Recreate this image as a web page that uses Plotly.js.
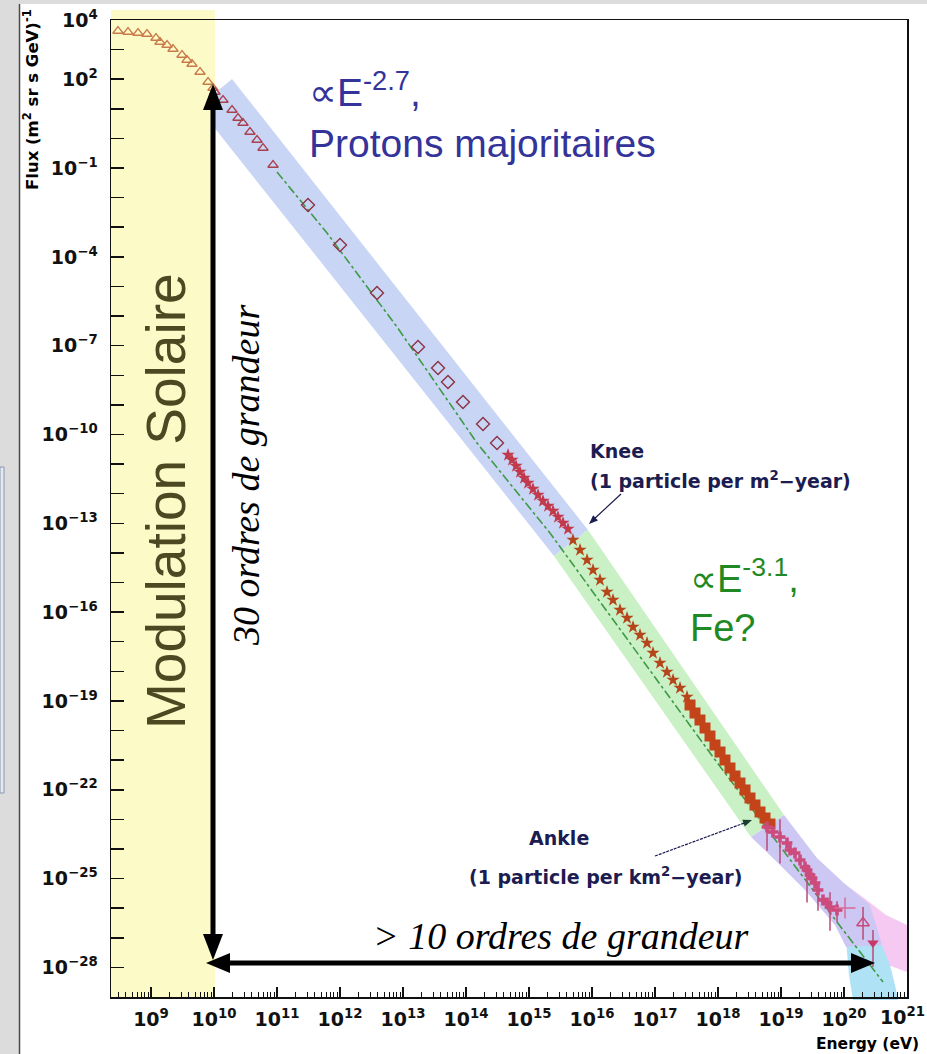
<!DOCTYPE html>
<html><head><meta charset="utf-8">
<script src="https://cdn.plot.ly/plotly-3.0.1.min.js"></script>
<style>html,body{margin:0;padding:0;background:#fff;}#chart{width:927px;height:1054px;}</style>
</head><body><div id="chart"></div>
<script>
// ---- data (log10 of energy in eV, log10 of flux) ----
const lowTriE = [8.476,8.635,8.794,8.936,9.079,9.143,9.254,9.349,9.492,9.571,9.651,9.778,9.905,9.984];
const lowTriF = [3.628,3.595,3.561,3.527,3.392,3.257,3.156,3.020,2.818,2.649,2.514,2.244,1.906,1.703];
const midTriE = [10.016,10.143,10.286,10.381,10.460,10.571,10.683,10.778,10.937];
const midTriF = [1.568,1.298,0.960,0.690,0.521,0.217,-0.053,-0.324,-0.898];
const diamondE = [11.492,12.000,12.587,13.238,13.556,13.714,13.952,14.270,14.492];
const diamondF = [-2.249,-3.600,-5.221,-7.045,-7.754,-8.227,-8.903,-9.646,-10.288];
const kneeE = [14.667,14.730,14.794,14.857,14.921,14.984,15.063,15.143,15.222,15.302,15.381,15.460,15.540,15.619];
const kneeF = [-10.693,-10.862,-11.065,-11.267,-11.470,-11.639,-11.841,-12.044,-12.247,-12.416,-12.584,-12.787,-12.990,-13.192];
const feE = [15.698,15.810,15.921,16.016,16.127,16.238,16.333,16.444,16.556,16.651,16.762,16.873,16.968,17.079,17.190,17.286,17.397,17.508];
const feF = [-13.564,-13.902,-14.240,-14.577,-14.915,-15.320,-15.591,-15.929,-16.199,-16.503,-16.773,-17.043,-17.381,-17.719,-18.023,-18.293,-18.563,-18.867];
const feDenseE = [17.556,17.635,17.714,17.794,17.873,17.952,18.032,18.111,18.190,18.270,18.349,18.429,18.508,18.587,18.667,18.746,18.825];
const feDenseF = [-19.137,-19.407,-19.644,-19.914,-20.184,-20.488,-20.725,-20.995,-21.265,-21.535,-21.772,-22.008,-22.278,-22.515,-22.751,-22.954,-23.157];
const uheE = [18.778,18.873,18.984,19.095,19.143,19.222,19.302,19.381,19.413,19.460,19.492,19.540,19.587,19.667,19.730,19.778,19.889];
const uheF = [-23.258,-23.427,-23.595,-23.798,-24.035,-24.136,-24.373,-24.609,-24.710,-24.879,-24.981,-25.150,-25.386,-25.724,-25.825,-25.960,-26.062];
const uheErrUp = [0.15,0,0.6,0,0,0,0,0,0.1,0,0,0,0.25,0,0,0.5,0.3];
const uheErrDn = [0.8,0,0.9,0,0,0,0,0,1.1,0,0,0,0.7,0,0,0.8,0.4];
const crossE = [20.016], crossF = [-25.994];
const openTriE = [20.302], openTriF = [-26.5], openTriUp = [0.54], openTriDn = [0.57];
const downTriE = [20.460], downTriF = [-27.176], downTriUp = [0.44], downTriDn = [0.81];
const refLineE = [11.000,11.794,12.905,14.175,15.333,17.921,19.889,20.619];
const refLineF = [-1.134,-3.195,-6.370,-10.288,-13.328,-20.894,-26.467,-28.493];
const xLabelExp = [9,10,11,12,13,14,15,16,17,18,19,20,21];
const yLabelExp = [4,2,-1,-4,-7,-10,-13,-16,-19,-22,-25,-28];

// ---- helpers ----
const pw = v => Math.pow(10, v);
const expTxt = e => '10<sup>' + String(e).replace('-', '\u2212') + '</sup>';
const L=111, R=907, T=20, B=997;
const px = x => (x-L)/(R-L), py = y => (B-y)/(B-T);
const path = pts => 'M' + pts.map(p => px(p[0]).toFixed(5)+','+py(p[1]).toFixed(5)).join('L') + 'Z';
const errs = (F, up, dn) => ({type:'data', symmetric:false,
  array: F.map((f,i)=>pw(f+up[i])-pw(f)), arrayminus: F.map((f,i)=>pw(f)-pw(f-dn[i])),
  width:0, thickness:1.5});

const traces = [
  {x:refLineE.map(pw), y:refLineF.map(pw), mode:'lines', line:{color:'#3f9a46', width:1.6, dash:'dashdot'}},
  {x:lowTriE.map(pw), y:lowTriF.map(pw), mode:'markers', marker:{symbol:'triangle-up-open', size:9, color:'#c97a4a', line:{width:1.3}}},
  {x:midTriE.map(pw), y:midTriF.map(pw), mode:'markers', marker:{symbol:'triangle-up-open', size:9, color:'#a8404e', line:{width:1.3}}},
  {x:diamondE.map(pw), y:diamondF.map(pw), mode:'markers', marker:{symbol:'diamond-open', size:10, color:'#8c3444', line:{width:1.4}}},
  {x:kneeE.map(pw), y:kneeF.map(pw), mode:'markers', marker:{symbol:'star', size:10, color:'#c2394c'}},
  {x:feE.map(pw), y:feF.map(pw), mode:'markers', marker:{symbol:'star', size:10, color:'#b5461a'}},
  {x:feDenseE.map(pw), y:feDenseF.map(pw), mode:'markers', marker:{symbol:'square', size:11, color:'#c4441a'}},
  {x:uheE.map(pw), y:uheF.map(pw), mode:'markers', marker:{symbol:'cross', size:9, color:'#cc4a7c'},
   error_y:Object.assign(errs(uheF,uheErrUp,uheErrDn),{color:'#b94a78'})},
  {x:crossE.map(pw), y:crossF.map(pw), mode:'markers', marker:{symbol:'cross-thin-open', size:15, color:'#d86a9a', line:{width:1.5}}},
  {x:openTriE.map(pw), y:openTriF.map(pw), mode:'markers', marker:{symbol:'triangle-up-open', size:11, color:'#c84a7a', line:{width:1.4}},
   error_y:Object.assign(errs(openTriF,openTriUp,openTriDn),{color:'#b94a78'})},
  {x:downTriE.map(pw), y:downTriF.map(pw), mode:'markers', marker:{symbol:'triangle-down', size:10, color:'#c83a66'},
   error_y:Object.assign(errs(downTriF,downTriUp,downTriDn),{color:'#b94a78'})}
];

const xMinor = [];
for (let d=8; d<=20; d++) for (let k=2; k<=9; k++) xMinor.push(k*pw(d));
const yMinor = [];
for (let e=-29; e<=4; e++) if (!yLabelExp.includes(e)) yMinor.push(pw(e));
// the last energy label sits on the frame edge; it is placed as an annotation so it stays inside the page
const xAxisExp = xLabelExp.slice(0, -1), xEdgeExp = xLabelExp[xLabelExp.length-1];

const S = (o) => Object.assign({xref:'paper', yref:'paper', layer:'below'}, o);
const SA = (o) => Object.assign({xref:'paper', yref:'paper', layer:'above'}, o);
function head(tip, tail, len, hw, color) {
  const dx = tip[0]-tail[0], dy = tip[1]-tail[1], n = Math.hypot(dx,dy), ux = dx/n, uy = dy/n;
  const bx = tip[0]-len*ux, by = tip[1]-len*uy;
  return SA({type:'path', path:path([tip,[bx-hw*uy, by+hw*ux],[bx+hw*uy, by-hw*ux]]), fillcolor:color, line:{width:0}});
}
const vTop=[213,84], vBot=[213,960], hL=[206,963], hR=[875,963];
const kneeTip=[589,524], kneeTail=[621,494], ankTip=[752,820], ankTail=[655,856];
const shapes = [
  S({type:'rect', x0:px(0), x1:px(19), y0:py(1054), y1:py(0), fillcolor:'#dcdcdc', line:{width:0}}),
  S({type:'rect', x0:px(19), x1:px(927), y0:py(4), y1:py(0), fillcolor:'#dcdcdc', line:{width:0}}),
  S({type:'rect', x0:px(0), x1:px(4), y0:py(793), y1:py(467), fillcolor:'#e4e8ee', line:{width:1, color:'#8a98ae'}}),
  S({type:'line', x0:px(19.5), x1:px(19.5), y0:py(4), y1:py(1054), line:{width:1.5, color:'#4a4a4a'}}),
  S({type:'path', path:path([[198,107],[232,79],[588,530],[554,556]]), fillcolor:'#c8d5f5', line:{width:0}}),
  S({type:'path', path:path([[554,556],[588,530],[784,815],[751,837]]), fillcolor:'#caf0c6', line:{width:0}}),
  S({type:'path', path:path([[820,865],[842,882],[864,898],[886,915],[907,925],[907,972],[888,965],[868,955],[850,946],[832,920]]), fillcolor:'#f6c9f2', line:{width:0}}),
  S({type:'path', path:path([[846,940],[880,940],[890,965],[895,985],[898,1000],[853,1000],[849,975]]), fillcolor:'#aee2f4', line:{width:0}}),
  S({type:'path', path:path([[751,837],[784,815],[817,858],[845,884],[870,905],[882,945],[846,947],[835,925],[805,890],[775,860]]), fillcolor:'#ccc8f3', line:{width:0}}),
  S({type:'rect', x0:px(111), x1:px(215), y0:py(997), y1:py(10), fillcolor:'#fcfac7', line:{width:0}}),
  // black double arrows
  SA({type:'line', x0:px(vTop[0]), x1:px(vBot[0]), y0:py(vTop[1]+20), y1:py(vBot[1]-20), line:{width:5, color:'#000'}}),
  head(vTop, vBot, 26, 10, '#000'), head(vBot, vTop, 26, 10, '#000'),
  SA({type:'line', x0:px(hL[0]+20), x1:px(hR[0]-20), y0:py(hL[1]), y1:py(hR[1]), line:{width:5, color:'#000'}}),
  head(hL, hR, 24, 10, '#000'), head(hR, hL, 24, 10, '#000'),
  // knee / ankle pointers
  SA({type:'line', x0:px(kneeTail[0]), y0:py(kneeTail[1]), x1:px(kneeTip[0]+4), y1:py(kneeTip[1]-4), line:{width:1.2, color:'#1c1c50'}}),
  head(kneeTip, kneeTail, 9, 3.5, '#1c1c50'),
  SA({type:'line', x0:px(ankTail[0]), y0:py(ankTail[1]), x1:px(ankTip[0]-5), y1:py(ankTip[1]+2), line:{width:1.2, color:'#1c1c50', dash:'3px,1px'}}),
  head(ankTip, ankTail, 9, 3.5, '#1c3c30')
];

const tickFont = {family:'DejaVu Sans', size:19, color:'#111', weight:'bold'};
const ann = [];
const A = o => ann.push(Object.assign({xref:'paper', yref:'paper', showarrow:false}, o));
const rootFont = {family:'DejaVu Sans', size:19, color:'#1c1c50', weight:'bold'};
A({x:px(307), y:py(115), xanchor:'left', yanchor:'middle', align:'left',
   text:'\u221DE<sup>-2.7</sup>,<br>Protons majoritaires', font:{family:'Liberation Sans, Arial', size:39, color:'#33339a'}});
A({x:px(688), y:py(600), xanchor:'left', yanchor:'middle', align:'left',
   text:'\u221DE<sup>-3.1</sup>,<br>Fe?', font:{family:'Liberation Sans, Arial', size:38, color:'#1f8a24'}});
A({x:px(588), y:py(451), xanchor:'left', yanchor:'middle', text:'Knee', font:rootFont});
A({x:px(588), y:py(480), xanchor:'left', yanchor:'middle', text:'(1 particle per m<sup>2</sup>\u2212year)', font:rootFont});
A({x:px(527), y:py(838), xanchor:'left', yanchor:'middle', text:'Ankle', font:rootFont});
A({x:px(467), y:py(876), xanchor:'left', yanchor:'middle', text:'(1 particle per km<sup>2</sup>\u2212year)', font:rootFont});
A({x:px(166), y:py(501), xanchor:'center', yanchor:'middle', textangle:-90, text:'Modulation Solaire',
   font:{family:'Liberation Sans, Arial', size:55, color:'#4d4822'}});
A({x:px(246), y:py(476), xanchor:'center', yanchor:'middle', textangle:-90, text:'<i>30 ordres de grandeur</i>',
   font:{family:'Liberation Serif, Times New Roman', size:38, color:'#000'}});
A({x:px(561), y:py(936), xanchor:'center', yanchor:'middle', text:'<i>&gt; 10 ordres de grandeur</i>',
   font:{family:'Liberation Serif, Times New Roman', size:38, color:'#000'}});
A({x:px(31), y:py(100), xanchor:'center', yanchor:'middle', textangle:-90, text:'Flux (m<sup>2</sup> sr s GeV)<sup>-1</sup>',
   font:{family:'DejaVu Sans', size:16.5, color:'#000', weight:'bold'}});
A({x:px(814), y:py(1044), xanchor:'left', yanchor:'middle', text:'Energy (eV)',
   font:{family:'DejaVu Sans', size:15.5, color:'#000', weight:'bold'}});
A({x:px(926), y:py(1003), xanchor:'right', yanchor:'top', text:expTxt(xEdgeExp), font:tickFont, borderpad:0});

const layout = {
  width:927, height:1054, margin:{l:L, r:927-R, t:T, b:1054-B, pad:0},
  paper_bgcolor:'#fff', plot_bgcolor:'rgba(0,0,0,0)', showlegend:false,
  xaxis:{type:'log', range:[8.365,21.0], showgrid:false, zeroline:false, showline:true, linecolor:'#111', linewidth:1.5, mirror:true,
    tickmode:'array', tickvals:xAxisExp.map(pw), ticktext:xAxisExp.map(expTxt), ticks:'inside', ticklen:10, tickwidth:1.5, tickcolor:'#111',
    tickfont:tickFont, ticklabelstandoff:5, ticklabeloverflow:'allow',
    minor:{tickmode:'array', tickvals:xMinor, ticks:'inside', ticklen:5, tickwidth:1, tickcolor:'#111', showgrid:false}},
  yaxis:{type:'log', range:[-29,4], showgrid:false, zeroline:false, showline:true, linecolor:'#111', linewidth:1.5, mirror:true,
    tickmode:'array', tickvals:yLabelExp.map(pw), ticktext:yLabelExp.map(expTxt), ticks:'inside', ticklen:13, tickwidth:1.5, tickcolor:'#111',
    tickfont:tickFont, ticklabelstandoff:8, ticklabeloverflow:'allow',
    minor:{tickmode:'array', tickvals:yMinor, ticks:'inside', ticklen:13, tickwidth:1.5, tickcolor:'#111', showgrid:false}},
  shapes:shapes, annotations:ann
};
Plotly.newPlot('chart', traces, layout, {displayModeBar:false, staticPlot:true});
</script></body></html>
